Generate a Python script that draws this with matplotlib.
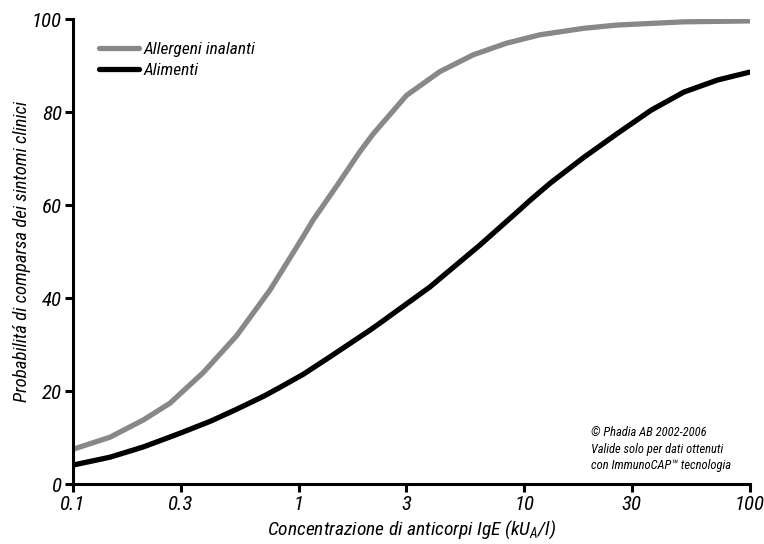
import matplotlib.pyplot as plt
plt.switch_backend('agg')

from matplotlib import font_manager

# values (x in kUA/l, y in %)
x_inal = [0.1, 0.146, 0.205, 0.269, 0.378, 0.531, 0.746, 1.047, 1.16, 1.47, 1.87,
          2.14, 3.01, 4.23, 5.94, 8.34, 11.7, 18.3, 25.7, 51, 100]
y_inal = [7.5, 10.1, 13.8, 17.4, 24.0, 31.9, 41.7, 53.2, 56.8, 64.0, 71.5,
          75.3, 83.6, 88.7, 92.3, 94.8, 96.6, 98.0, 98.7, 99.4, 99.6]

x_alim = [0.1, 0.146, 0.205, 0.3, 0.41, 0.531, 0.70, 0.826, 1.047, 1.38, 2.07,
          2.29, 3.82, 6.36, 9.2, 10.6, 13.1, 18.3, 25.7, 36.5, 51, 72, 100]
y_alim = [4.1, 5.8, 8.0, 11.0, 13.6, 16.1, 18.9, 20.8, 23.6, 27.4, 33.1,
          34.6, 42.4, 51.4, 58.3, 61.0, 64.8, 70.2, 75.3, 80.4, 84.3, 86.9, 88.6]

x_ticks = [0.1, 0.3, 1, 3, 10, 30, 100]
x_tick_labels = ['0.1', '0.3', '1', '3', '10', '30', '100']
y_ticks = [0, 20, 40, 60, 80, 100]

# pick a narrow face if one is there
names = {f.name for f in font_manager.fontManager.ttflist}
main = 'DejaVu Sans'
for cand in ['Liberation Sans Narrow', 'DejaVu Sans Condensed', 'Roboto Condensed',
             'Open Sans Condensed', 'Noto Sans Condensed', 'Roboto', 'Lato']:
    if cand in names:
        main = cand
        break

plt.rcParams['font.family'] = [main, 'DejaVu Sans']
plt.rcParams['font.style'] = 'italic'
plt.rcParams['mathtext.fontset'] = 'custom'
plt.rcParams['mathtext.it'] = main + ':italic'
plt.rcParams['mathtext.rm'] = main + ':italic'

fig = plt.figure(figsize=(7.64, 5.44), dpi=100)
ax = fig.add_axes([0.0955, 0.110, 0.886, 0.855])

ax.plot(x_inal, y_inal, color='#888888', lw=3.8, solid_capstyle='round',
        solid_joinstyle='round', label='Allergeni inalanti')
ax.plot(x_alim, y_alim, color='black', lw=3.8, solid_capstyle='round',
        solid_joinstyle='round', label='Alimenti')

ax.set_xscale('log')
ax.set_xlim(0.1, 100)
ax.set_ylim(0, 100)
ax.set_xticks(x_ticks)
ax.set_xticklabels(x_tick_labels)
ax.minorticks_off()
ax.set_yticks(y_ticks)

for s in ['top', 'right']:
    ax.spines[s].set_visible(False)
for s in ['left', 'bottom']:
    ax.spines[s].set_linewidth(2.2)
ax.tick_params(width=2.2, length=6, labelsize=15, pad=2)

ax.set_xlabel(r'Concentrazione di anticorpi IgE (kU$_A$/l)', fontsize=14, labelpad=3)
ax.set_ylabel('Probabilitá di comparsa dei sintomi clinici', fontsize=13.5, labelpad=0.5)

ax.legend(loc='upper left', bbox_to_anchor=(0.015, 0.985), frameon=False,
          fontsize=12.5, handlelength=2.3, handletextpad=0.3, labelspacing=0.35)

ax.text(0.766, 0.125, '© Phadia AB 2002-2006\nValide solo per dati ottenuti\ncon ImmunoCAP™ tecnologia',
        transform=ax.transAxes, fontsize=9, va='top', ha='left', linespacing=1.35)

plt.savefig('out.png', dpi=100)
plt.close(fig)
